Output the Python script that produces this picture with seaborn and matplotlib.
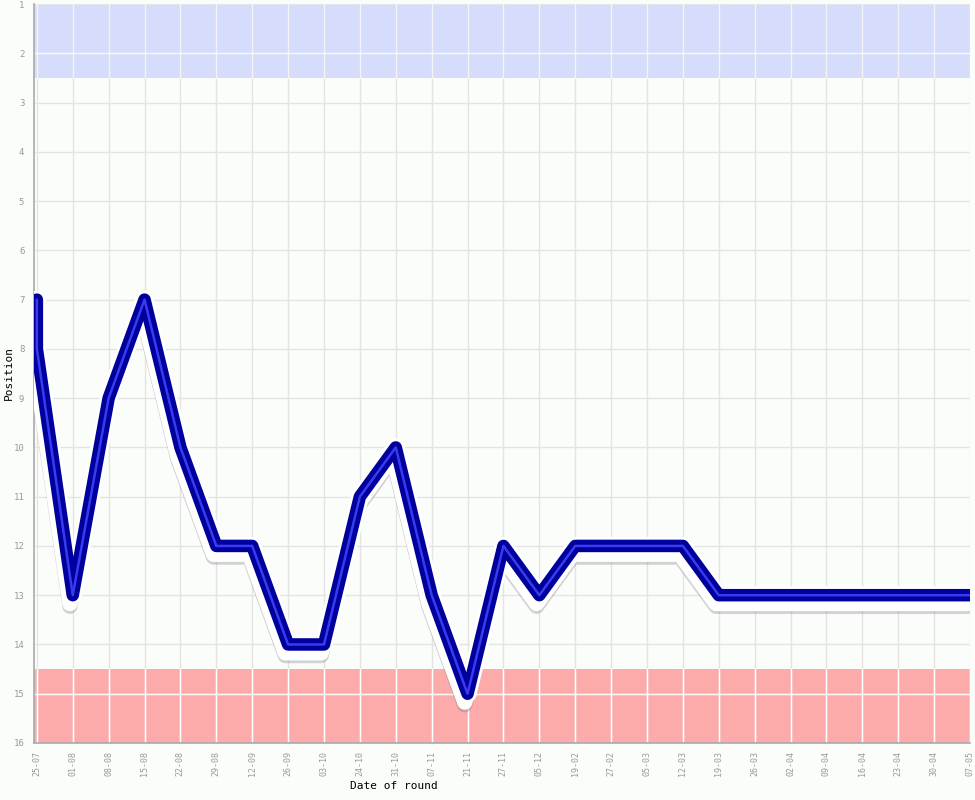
import matplotlib
matplotlib.use("Agg")
import matplotlib.pyplot as plt
import matplotlib.patheffects as pe
import seaborn as sns
import pandas as pd

# x-axis labels (one per round date)
dates = ['25-07', '01-08', '08-08', '15-08', '22-08', '29-08', '12-09', '26-09',
         '03-10', '24-10', '31-10', '07-11', '21-11', '27-11', '05-12', '19-02',
         '27-02', '05-03', '12-03', '19-03', '26-03', '02-04', '09-04', '16-04',
         '23-04', '30-04', '07-05']

# league position after each round (first date has two entries)
round_dates = ['25-07', '25-07'] + dates[1:]
positions = [7, 8, 13, 9, 7, 10, 12, 12, 14, 14, 11, 10, 13, 15, 12, 13,
             12, 12, 12, 12, 13, 13, 13, 13, 13, 13, 13, 13]

top_zone = (1, 2.5)
bottom_zone = (14.5, 16)

df = pd.DataFrame({'x': [dates.index(d) for d in round_dates], 'pos': positions})

sns.set_style('white')
plt.rcParams['font.family'] = ['DejaVu Sans Mono']

fig = plt.figure(figsize=(9.75, 8), dpi=100, facecolor='#fbfdfb')
ax = fig.add_axes([34 / 975, 57 / 800, 936 / 975, 739 / 800])
ax.set_facecolor('#fbfdfb')

ax.axhspan(*top_zone, color='#d6dcfb', zorder=0, lw=0)
ax.axhspan(*bottom_zone, color='#fcaaaa', zorder=0, lw=0)

for i in range(len(dates)):
    ax.axvline(i, color='#e4e4e4', lw=1, zorder=0.5)
for y in range(1, 17):
    ax.axhline(y, color='#e4e4e4', lw=1, zorder=0.5)
# white grid lines inside the coloured zones
for i in range(len(dates)):
    ax.plot([i, i], top_zone, color='white', lw=1, alpha=0.6, zorder=0.6)
    ax.plot([i, i], bottom_zone, color='white', lw=1, zorder=0.6)
for y in [2, 15]:
    ax.axhline(y, color='white', lw=1, alpha=0.8, zorder=0.6)

effects = [
    pe.SimpleLineShadow(offset=(-2, -8), shadow_color='#808080', alpha=0.35, linewidth=11),
    pe.Stroke(offset=(-2, -6), linewidth=11, foreground='white'),
    pe.Stroke(linewidth=13, foreground='white'),
    pe.Stroke(linewidth=9, foreground='#00009c'),
    pe.Normal(),
]
sns.lineplot(data=df, x='x', y='pos', estimator=None, sort=False, ax=ax,
             color='#3a3af0', lw=1.8, path_effects=effects, zorder=3)

ax.set_xlim(-0.08, len(dates) - 1)
ax.set_ylim(16, 1)
ax.set_xticks(range(len(dates)))
ax.set_xticklabels(dates, rotation=90, fontsize=6, color='#999999')
ax.set_yticks(range(1, 17))
ax.set_yticklabels([str(v) for v in range(1, 17)], fontsize=6.5, color='#999999')
ax.tick_params(axis='x', length=0, pad=6)
ax.tick_params(axis='y', length=0, pad=7)
ax.set_xlabel('Date of round', fontsize=8, color='black')
ax.set_ylabel('Position', fontsize=8, color='black')
ax.xaxis.set_label_coords(0.384, -0.052)
ax.yaxis.set_label_coords(-0.021, 0.5)

for s in ['top', 'right']:
    ax.spines[s].set_visible(False)
for s in ['left', 'bottom']:
    ax.spines[s].set_color('#aaaaaa')
    ax.spines[s].set_linewidth(1.2)

fig.savefig('out.png', dpi=100, facecolor=fig.get_facecolor())
